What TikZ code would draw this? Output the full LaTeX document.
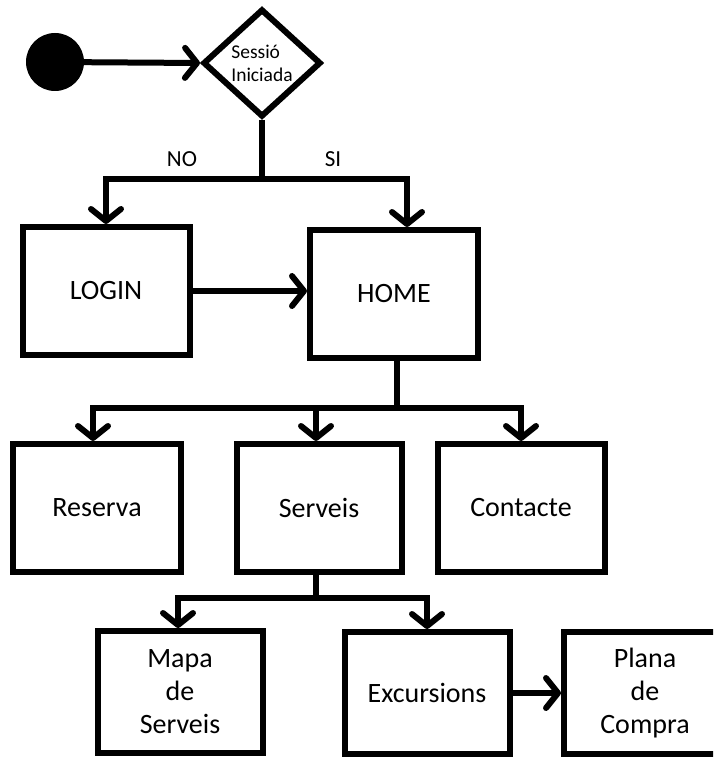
\documentclass[tikz,border=0pt]{standalone}
\usepackage{fontspec}
\setmainfont{Carlito}
\usepackage{tikz}
\usetikzlibrary{arrows.meta,shapes.geometric}

\tikzset{
  caixa/.style={draw, line width=6pt, rectangle, inner sep=0pt, font=\fontsize{28}{33}\selectfont, align=center},
  fletxa/.style={line width=6pt, -{Straight Barb[length=12pt, width=30pt, line cap=round, line join=round]}},
  linia/.style={line width=6pt}
}

\begin{document}
\begin{tikzpicture}[x=1pt, y=-1pt]
    \clip (0,0) rectangle (713,757);
    \fill[white] (0,0) rectangle (713,757);

    \node [circle, fill=black, minimum size=58pt, inner sep=0pt] (inici) at (55,62) {};
    \node [diamond, draw, line width=6pt, minimum width=118pt, minimum height=108pt, inner sep=0pt,
           font=\fontsize{19.5}{23}\selectfont, align=left] (sessio) at (262,63) {Sessió\\Iniciada};

    \node [caixa, minimum width=167pt, minimum height=128pt] (login) at (106,291) {LOGIN};
    \node [caixa, minimum width=168pt, minimum height=128pt] (home) at (394,294) {HOME};

    \node [caixa, minimum width=168pt, minimum height=128pt] (reserva) at (97,508) {Reserva};
    \node [caixa, minimum width=165pt, minimum height=128pt] (serveis) at (319,508) {Serveis};
    \node [caixa, minimum width=167pt, minimum height=128pt] (contacte) at (521,508) {Contacte};

    \node [caixa, minimum width=165pt, minimum height=122pt] (mapa) at (180,692) {Mapa\\de\\Serveis};
    \node [caixa, minimum width=165pt, minimum height=122pt] (excursions) at (427,693) {Excursions};
    \node [caixa, minimum width=162pt, minimum height=122pt] (plana) at (645,693) {Plana\\de\\Compra};

    \coordinate (bifurca) at (262,179);
    \coordinate (bhome) at (397,408);
    \coordinate (bserveis) at (316,598);

    % inici i decisio
    \draw [fletxa] (inici) -- (sessio.west);
    \draw [linia] (sessio.south) -- (bifurca);
    \draw [fletxa] (bifurca) -| (login.north);
    \draw [fletxa] (bifurca) -| ([xshift=13pt]home.north);
    \node [font=\fontsize{23}{26}\selectfont] (no) at (182,159) {NO};
    \node [font=\fontsize{23}{26}\selectfont] (si) at (333,159) {SI};

    \draw [fletxa] (login.east) -- (login.east -| home.west);

    % home
    \draw [linia] (home.south -| bhome) -- (bhome);
    \draw [fletxa] (bhome) -| ([xshift=-4pt]reserva.north);
    \draw [fletxa] (bhome) -| ([xshift=-3pt]serveis.north);
    \draw [fletxa] (bhome) -| (contacte.north);

    % serveis
    \draw [linia] (serveis.south -| bserveis) -- (bserveis);
    \draw [fletxa] (bserveis) -| ([xshift=-2pt]mapa.north);
    \draw [fletxa] (bserveis) -| (excursions.north);
    \draw [fletxa] (excursions.east) -- (excursions.east -| plana.west);
\end{tikzpicture}
\end{document}
